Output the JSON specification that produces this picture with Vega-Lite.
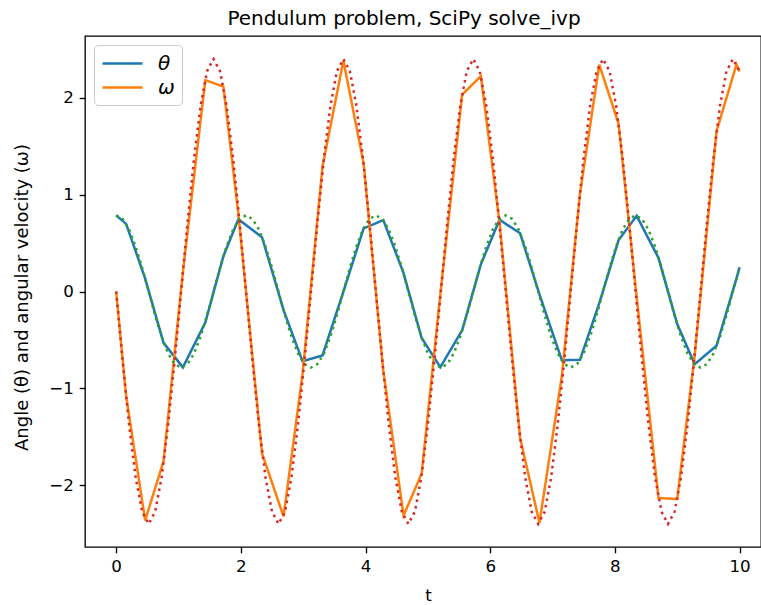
{
  "$schema": "https://vega.github.io/schema/vega-lite/v6.json",
  "autosize": {"type": "none"},
  "padding": {"left": 85, "top": 36, "right": 0, "bottom": 58},
  "width": 676,
  "height": 511,
  "background": "white",
  "title": {"text": "Pendulum problem, SciPy solve_ivp", "fontSize": 20, "fontWeight": "normal", "font": "DejaVu Sans", "color": "black", "anchor": "middle", "baseline": "alphabetic", "offset": 10, "dx": -19, "dy": 19},
  "datasets": {
    "sol": [
      {"t": 0, "θ": 0.785, "ω": 0.0},
      {"t": 0.16, "θ": 0.697, "ω": -1.08},
      {"t": 0.465, "θ": 0.133, "ω": -2.36},
      {"t": 0.76, "θ": -0.53, "ω": -1.75},
      {"t": 1.07, "θ": -0.782, "ω": 0.2},
      {"t": 1.43, "θ": -0.32, "ω": 2.18},
      {"t": 1.72, "θ": 0.364, "ω": 2.113},
      {"t": 1.96, "θ": 0.745, "ω": 0.8},
      {"t": 2.34, "θ": 0.56, "ω": -1.67},
      {"t": 2.685, "θ": -0.193, "ω": -2.32},
      {"t": 2.99, "θ": -0.72, "ω": -0.85},
      {"t": 3.31, "θ": -0.66, "ω": 1.29},
      {"t": 3.645, "θ": -0.001, "ω": 2.38},
      {"t": 3.97, "θ": 0.651, "ω": 1.32},
      {"t": 4.285, "θ": 0.736, "ω": -0.816},
      {"t": 4.61, "θ": 0.19, "ω": -2.31},
      {"t": 4.9, "θ": -0.48, "ω": -1.88},
      {"t": 5.2, "θ": -0.78, "ω": -0.03},
      {"t": 5.55, "θ": -0.4, "ω": 2.03},
      {"t": 5.85, "θ": 0.28, "ω": 2.22},
      {"t": 6.15, "θ": 0.74, "ω": 0.71},
      {"t": 6.48, "θ": 0.6, "ω": -1.51},
      {"t": 6.79, "θ": -0.03, "ω": -2.385},
      {"t": 7.15, "θ": -0.71, "ω": -0.87},
      {"t": 7.44, "θ": -0.705, "ω": 1.01},
      {"t": 7.75, "θ": -0.12, "ω": 2.34},
      {"t": 8.06, "θ": 0.53, "ω": 1.73},
      {"t": 8.35, "θ": 0.78, "ω": -0.06},
      {"t": 8.7, "θ": 0.345, "ω": -2.13},
      {"t": 9.0, "θ": -0.335, "ω": -2.14},
      {"t": 9.28, "θ": -0.75, "ω": -0.66},
      {"t": 9.63, "θ": -0.56, "ω": 1.65},
      {"t": 9.95, "θ": 0.133, "ω": 2.34},
      {"t": 10.0, "θ": 0.25, "ω": 2.27}
    ],
    "dense": [
      {"t": 0, "th": 0.785, "om": 0},
      {"t": 0.104, "th": 0.748, "om": -0.717},
      {"t": 0.208, "th": 0.638, "om": -1.377},
      {"t": 0.312, "th": 0.465, "om": -1.916},
      {"t": 0.417, "th": 0.245, "om": -2.272},
      {"t": 0.521, "th": 0, "om": -2.397},
      {"t": 0.625, "th": -0.245, "om": -2.272},
      {"t": 0.729, "th": -0.465, "om": -1.916},
      {"t": 0.833, "th": -0.638, "om": -1.377},
      {"t": 0.937, "th": -0.748, "om": -0.717},
      {"t": 1.042, "th": -0.785, "om": 0},
      {"t": 1.146, "th": -0.748, "om": 0.717},
      {"t": 1.25, "th": -0.638, "om": 1.377},
      {"t": 1.354, "th": -0.465, "om": 1.916},
      {"t": 1.458, "th": -0.245, "om": 2.272},
      {"t": 1.562, "th": 0, "om": 2.397},
      {"t": 1.666, "th": 0.245, "om": 2.272},
      {"t": 1.771, "th": 0.465, "om": 1.916},
      {"t": 1.875, "th": 0.638, "om": 1.377},
      {"t": 1.979, "th": 0.748, "om": 0.717},
      {"t": 2.083, "th": 0.785, "om": 0},
      {"t": 2.187, "th": 0.748, "om": -0.717},
      {"t": 2.291, "th": 0.638, "om": -1.377},
      {"t": 2.395, "th": 0.465, "om": -1.916},
      {"t": 2.5, "th": 0.245, "om": -2.272},
      {"t": 2.604, "th": 0, "om": -2.397},
      {"t": 2.708, "th": -0.245, "om": -2.272},
      {"t": 2.812, "th": -0.465, "om": -1.916},
      {"t": 2.916, "th": -0.638, "om": -1.377},
      {"t": 3.02, "th": -0.748, "om": -0.717},
      {"t": 3.125, "th": -0.785, "om": 0},
      {"t": 3.229, "th": -0.748, "om": 0.717},
      {"t": 3.333, "th": -0.638, "om": 1.377},
      {"t": 3.437, "th": -0.465, "om": 1.916},
      {"t": 3.541, "th": -0.245, "om": 2.272},
      {"t": 3.645, "th": 0, "om": 2.397},
      {"t": 3.749, "th": 0.245, "om": 2.272},
      {"t": 3.854, "th": 0.465, "om": 1.916},
      {"t": 3.958, "th": 0.638, "om": 1.377},
      {"t": 4.062, "th": 0.748, "om": 0.717},
      {"t": 4.166, "th": 0.785, "om": 0},
      {"t": 4.27, "th": 0.748, "om": -0.717},
      {"t": 4.374, "th": 0.638, "om": -1.377},
      {"t": 4.478, "th": 0.465, "om": -1.916},
      {"t": 4.583, "th": 0.245, "om": -2.272},
      {"t": 4.687, "th": 0, "om": -2.397},
      {"t": 4.791, "th": -0.245, "om": -2.272},
      {"t": 4.895, "th": -0.465, "om": -1.916},
      {"t": 4.999, "th": -0.638, "om": -1.377},
      {"t": 5.103, "th": -0.748, "om": -0.717},
      {"t": 5.208, "th": -0.785, "om": 0},
      {"t": 5.312, "th": -0.748, "om": 0.717},
      {"t": 5.416, "th": -0.638, "om": 1.377},
      {"t": 5.52, "th": -0.465, "om": 1.916},
      {"t": 5.624, "th": -0.245, "om": 2.272},
      {"t": 5.728, "th": 0, "om": 2.397},
      {"t": 5.832, "th": 0.245, "om": 2.272},
      {"t": 5.937, "th": 0.465, "om": 1.916},
      {"t": 6.041, "th": 0.638, "om": 1.377},
      {"t": 6.145, "th": 0.748, "om": 0.717},
      {"t": 6.249, "th": 0.785, "om": 0},
      {"t": 6.353, "th": 0.748, "om": -0.717},
      {"t": 6.457, "th": 0.638, "om": -1.377},
      {"t": 6.561, "th": 0.465, "om": -1.916},
      {"t": 6.666, "th": 0.245, "om": -2.272},
      {"t": 6.77, "th": 0, "om": -2.397},
      {"t": 6.874, "th": -0.245, "om": -2.272},
      {"t": 6.978, "th": -0.465, "om": -1.916},
      {"t": 7.082, "th": -0.638, "om": -1.377},
      {"t": 7.186, "th": -0.748, "om": -0.717},
      {"t": 7.291, "th": -0.785, "om": 0},
      {"t": 7.395, "th": -0.748, "om": 0.717},
      {"t": 7.499, "th": -0.638, "om": 1.377},
      {"t": 7.603, "th": -0.465, "om": 1.916},
      {"t": 7.707, "th": -0.245, "om": 2.272},
      {"t": 7.811, "th": 0, "om": 2.397},
      {"t": 7.915, "th": 0.245, "om": 2.272},
      {"t": 8.02, "th": 0.465, "om": 1.916},
      {"t": 8.124, "th": 0.638, "om": 1.377},
      {"t": 8.228, "th": 0.748, "om": 0.717},
      {"t": 8.332, "th": 0.785, "om": 0},
      {"t": 8.436, "th": 0.748, "om": -0.717},
      {"t": 8.54, "th": 0.638, "om": -1.377},
      {"t": 8.644, "th": 0.465, "om": -1.916},
      {"t": 8.749, "th": 0.245, "om": -2.272},
      {"t": 8.853, "th": 0, "om": -2.397},
      {"t": 8.957, "th": -0.245, "om": -2.272},
      {"t": 9.061, "th": -0.465, "om": -1.916},
      {"t": 9.165, "th": -0.638, "om": -1.377},
      {"t": 9.269, "th": -0.748, "om": -0.717},
      {"t": 9.374, "th": -0.785, "om": 0},
      {"t": 9.478, "th": -0.748, "om": 0.717},
      {"t": 9.582, "th": -0.638, "om": 1.377},
      {"t": 9.686, "th": -0.465, "om": 1.916},
      {"t": 9.79, "th": -0.245, "om": 2.272},
      {"t": 9.894, "th": 0, "om": 2.397},
      {"t": 10.0, "th": 0.25, "om": 2.27}
    ]
  },
  "layer": [
    {
      "data": {"name": "sol"},
      "transform": [{"fold": ["θ", "ω"], "as": ["var", "val"]}],
      "mark": {"type": "line", "strokeWidth": 2.5, "clip": true},
      "encoding": {
        "x": {"field": "t", "type": "quantitative", "title": "t", "scale": {"domain": [-0.5, 10.344], "nice": false, "zero": false}, "axis": {"values": [0, 2, 4, 6, 8, 10], "format": "d"}},
        "y": {"field": "val", "type": "quantitative", "title": "Angle (θ) and angular velocity (ω)", "scale": {"domain": [-2.635, 2.635], "nice": false, "zero": false}, "axis": {"values": [-2, -1, 0, 1, 2], "format": "d"}},
        "color": {"field": "var", "type": "nominal", "scale": {"domain": ["θ", "ω"], "range": ["#1f77b4", "#ff7f0e"]}, "legend": {"title": null}}
      }
    },
    {
      "data": {"name": "dense"},
      "mark": {"type": "line", "color": "#2ca02c", "strokeWidth": 2.5, "strokeDash": [2.5, 4.1], "strokeCap": "butt", "clip": true},
      "encoding": {
        "x": {"field": "t", "type": "quantitative", "title": "t"},
        "y": {"field": "th", "type": "quantitative", "title": "Angle (θ) and angular velocity (ω)"}
      }
    },
    {
      "data": {"name": "dense"},
      "mark": {"type": "line", "color": "#d62728", "strokeWidth": 2.5, "strokeDash": [2.5, 4.1], "strokeCap": "butt", "clip": true},
      "encoding": {
        "x": {"field": "t", "type": "quantitative", "title": "t"},
        "y": {"field": "om", "type": "quantitative", "title": "Angle (θ) and angular velocity (ω)"}
      }
    }
  ],
  "config": {
    "font": "DejaVu Sans",
    "view": {"stroke": "black", "strokeWidth": 1.33},
    "axis": {
      "grid": false,
      "domain": false,
      "ticks": true,
      "tickColor": "black",
      "tickWidth": 1.33,
      "tickSize": 5.8,
      "labelFont": "DejaVu Sans",
      "labelFontSize": 16.7,
      "labelColor": "black",
      "labelPadding": 5.8,
      "titleFont": "DejaVu Sans",
      "titleFontSize": 16.7,
      "titleFontWeight": "normal",
      "titleColor": "black"
    },
    "axisX": {"titleX": 343, "titleY": 48, "titleBaseline": "middle", "labelFlush": false},
    "axisY": {"titleX": -63, "titleY": 261, "titleAngle": -90, "titleBaseline": "middle", "titleAlign": "center", "titleFontSize": 18},
    "legend": {
      "orient": "none",
      "legendX": 9,
      "legendY": 9,
      "strokeColor": "#cccccc",
      "fillColor": "white",
      "cornerRadius": 4,
      "padding": 7,
      "symbolType": "M-2,0L2,0",
      "symbolSize": 400,
      "symbolOffset": 10,
      "symbolStrokeWidth": 2.5,
      "labelFont": "DejaVu Sans",
      "labelFontSize": 20,
      "labelFontStyle": "italic",
      "labelColor": "black",
      "labelOffset": 24,
      "rowPadding": 2
    }
  }
}
